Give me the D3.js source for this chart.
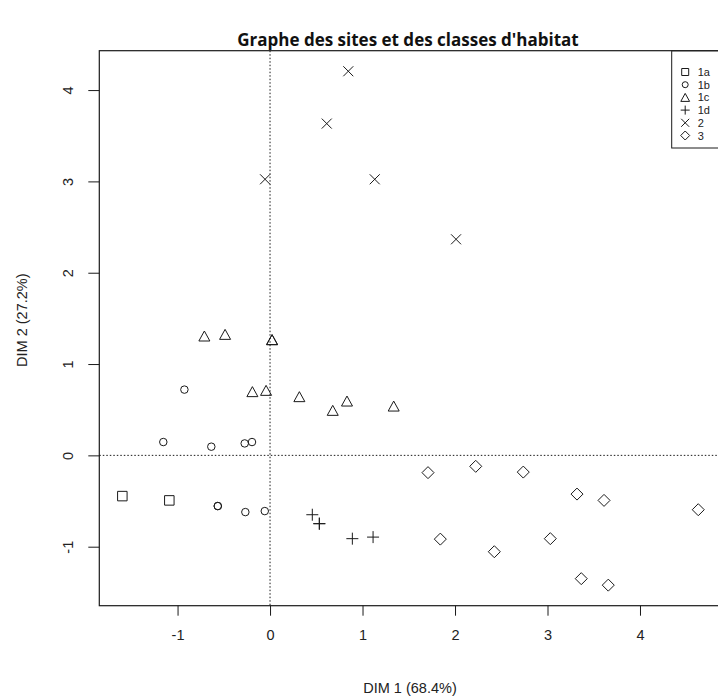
<!DOCTYPE html>
<html><head><meta charset="utf-8">
<script src="https://cdn.jsdelivr.net/npm/d3@7"></script>
<style>body{margin:0;background:#fff}svg{display:block}</style>
</head><body><svg id="c" width="718" height="699"></svg>
<script>
const title = "Graphe des sites et des classes d'habitat";
const xLabel = "DIM 1 (68.4%)";
const yLabel = "DIM 2 (27.2%)";
const classes = ["1a","1b","1c","1d","2","3"];
const xTicks = [-1,0,1,2,3,4];
const yTicks = [-1,0,1,2,3,4];
// points per class: [dim1, dim2]
const s1a = [[-1.597,-0.446],[-1.089,-0.493]];
const s1b = [[-0.926,0.720],[-1.154,0.146],[-0.635,0.095],[-0.274,0.131],[-0.195,0.146],[-0.565,-0.555],[-0.565,-0.555],[-0.267,-0.621],[-0.057,-0.610]];
const s1c = [[-0.710,1.307],[-0.486,1.325],[0.022,1.267],[0.022,1.267],[-0.191,0.698],[-0.043,0.712],[0.317,0.643],[0.678,0.493],[0.832,0.595],[1.337,0.540]];
const s1d = [[0.457,-0.650],[0.533,-0.748],[0.533,-0.748],[0.890,-0.912],[1.114,-0.895]];
const s2 = [[0.846,4.206],[0.613,3.633],[-0.054,3.023],[1.132,3.023],[2.011,2.366]];
const s3 = [[1.708,-0.189],[2.224,-0.120],[2.738,-0.183],[3.319,-0.424],[3.611,-0.493],[4.630,-0.595],[1.841,-0.917],[2.425,-1.055],[3.030,-0.912],[3.365,-1.350],[3.657,-1.421]];
const seriesData = [s1a,s1b,s1c,s1d,s2,s3];

const svg = d3.select("#c");
const L = 99.3, R = 721.3, T = 50.7, B = 605.7;
const all = seriesData.flat();
function expand(ext){const d=(ext[1]-ext[0])*0.04;return [ext[0]-d, ext[1]+d];}
const x = d3.scaleLinear().domain(expand(d3.extent(all,d=>d[0]))).range([L,R]);
const y = d3.scaleLinear().domain(expand(d3.extent(all,d=>d[1]))).range([B,T]);
const ink = "#1a1a1a";

function sym(k, s){
  const h=s/2;
  switch(k){
    case 0: return `M${-h},${-h}H${h}V${h}H${-h}Z`;
    case 1: { const r=h; return `M${r},0A${r},${r} 0 1,1 ${-r},0A${r},${r} 0 1,1 ${r},0Z`; }
    case 2: { const w=h*1.1; return `M0,${-h}L${w},${h}L${-w},${h}Z`; }
    case 3: return `M${-h},0H${h}M0,${-h}V${h}`;
    case 4: return `M${-h},${-h}L${h},${h}M${-h},${h}L${h},${-h}`;
    case 5: return `M0,${-h}L${h},0L0,${h}L${-h},0Z`;
  }
}
const sizes = [9.5,7.5,10,12,10,12];

// reference lines
svg.append("line").attr("x1",x(0)).attr("x2",x(0)).attr("y1",T).attr("y2",B)
  .attr("stroke",ink).attr("stroke-width",1).attr("stroke-dasharray","1.5,2");
svg.append("line").attr("x1",L).attr("x2",R).attr("y1",y(0)).attr("y2",y(0))
  .attr("stroke",ink).attr("stroke-width",1).attr("stroke-dasharray","1.5,2");

// points
seriesData.forEach((arr,k)=>{
  svg.append("g").selectAll("path").data(arr).join("path")
    .attr("transform",d=>`translate(${x(d[0])},${y(d[1])})`)
    .attr("d",sym(k,sizes[k])).attr("fill","none").attr("stroke",ink).attr("stroke-width",1);
});

// box
svg.append("rect").attr("x",L).attr("y",T).attr("width",R-L).attr("height",B-T)
  .attr("fill","none").attr("stroke",ink).attr("stroke-width",1.2);

// axes
const font = "'Liberation Sans', Arial, sans-serif";
const fmt = d => String(d);
const xa = svg.append("g").attr("transform",`translate(0,${B})`)
  .call(d3.axisBottom(x).tickValues(xTicks).tickSize(10).tickPadding(14).tickFormat(fmt));
xa.select(".domain").remove();
xa.selectAll("text").attr("font-family",font).attr("font-size",14.5).attr("fill","#222");
xa.selectAll("line").attr("stroke",ink);
const ya = svg.append("g").attr("transform",`translate(${L},0)`)
  .call(d3.axisLeft(y).tickValues(yTicks).tickSize(11).tickFormat(fmt));
ya.select(".domain").remove();
ya.selectAll("line").attr("stroke",ink);
ya.selectAll("text").attr("font-family",font).attr("font-size",14.5).attr("fill","#222")
  .attr("text-anchor","middle").attr("dy",null).attr("x",null)
  .attr("transform","translate(-31,0) rotate(-90)").attr("dominant-baseline","central");

// labels
svg.append("text").attr("x",410).attr("y",693).attr("text-anchor","middle")
  .attr("font-family",font).attr("font-size",14.5).attr("fill","#222").text(xLabel);
svg.append("text").attr("transform",`translate(27,${(T+B)/2-8}) rotate(-90)`).attr("text-anchor","middle")
  .attr("font-family",font).attr("font-size",14.5).attr("fill","#222").text(yLabel);
svg.append("text").attr("x",408).attr("y",46).attr("text-anchor","middle")
  .attr("font-family","'Open Sans', sans-serif").attr("font-weight","bold").attr("font-size",17)
  .attr("fill","#111").text(title);

// legend
const lg = svg.append("g").attr("transform","translate(671.7,51)");
lg.append("rect").attr("x",0).attr("y",0).attr("width",60).attr("height",97)
  .attr("fill","#fff").attr("stroke",ink).attr("stroke-width",1);
const lsz = [7,6,8,9,8,9];
classes.forEach((c,i)=>{
  const yy = 21 + i*12.7;
  lg.append("path").attr("transform",`translate(13.5,${yy})`).attr("d",sym(i,lsz[i]))
    .attr("fill","none").attr("stroke",ink).attr("stroke-width",1);
  lg.append("text").attr("x",26).attr("y",yy).attr("dominant-baseline","central")
    .attr("font-family",font).attr("font-size",11).attr("fill","#222").text(c);
});
</script></body></html>
